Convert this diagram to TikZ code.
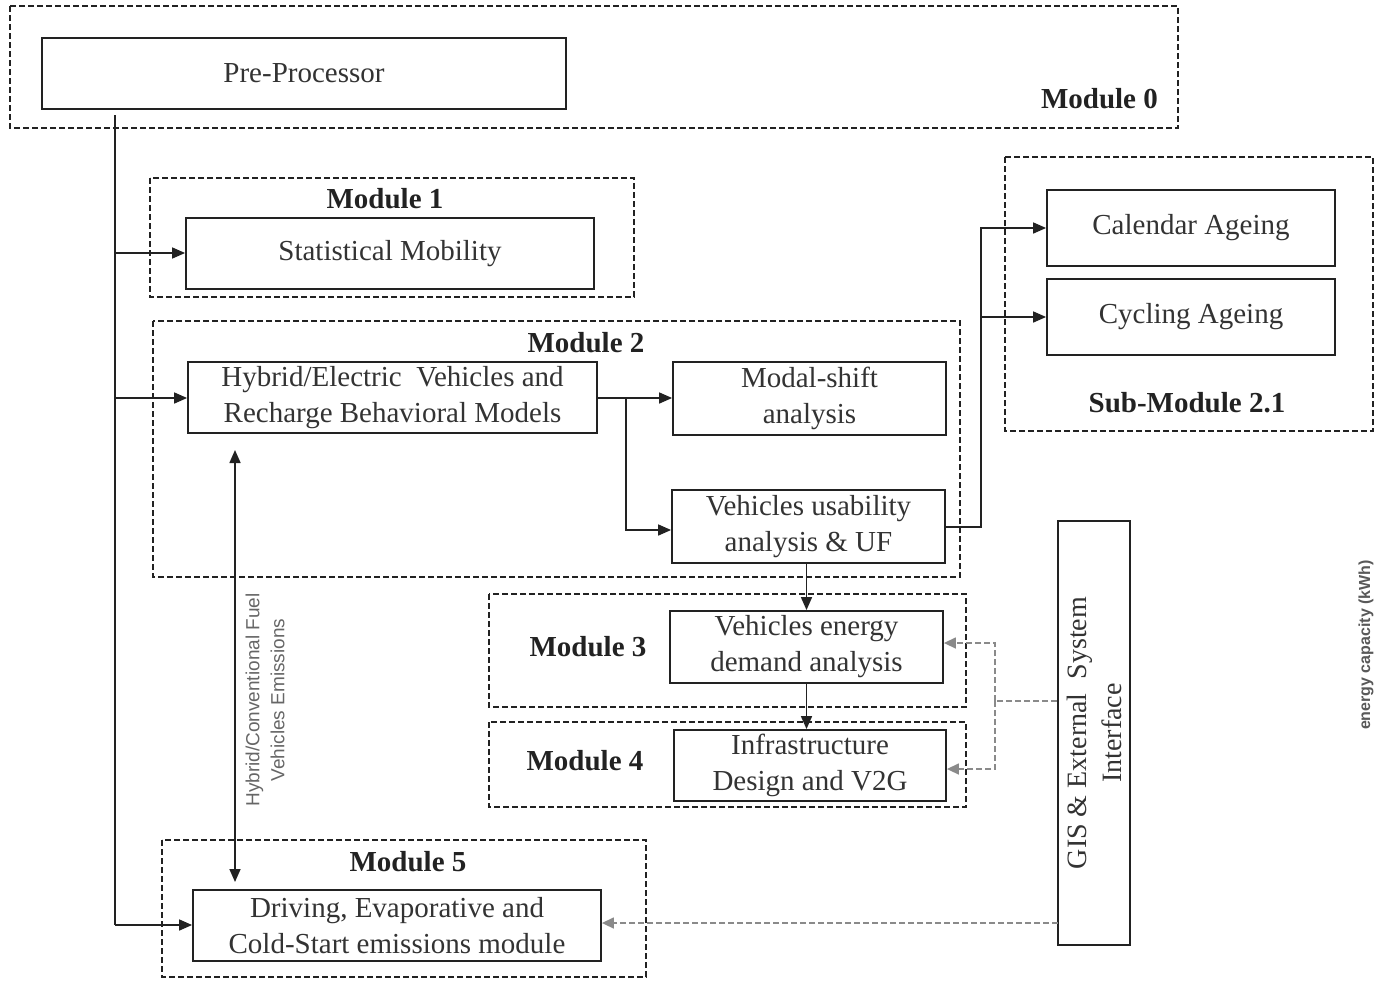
\documentclass[tikz,border=0pt]{standalone}
\usepackage{fontspec}
\setmainfont{Liberation Serif}
\newfontfamily\lsans{Liberation Sans}
\usetikzlibrary{arrows.meta}
\definecolor{ink}{HTML}{222222}
\definecolor{txt}{HTML}{333333}
\definecolor{gdash}{HTML}{8A8A8A}
\tikzset{
  modbox/.style={draw=ink, line width=1.6pt, dash pattern=on 6pt off 3pt},
  procbox/.style={draw=ink, line width=1.8pt, fill=white, inner sep=0pt, text=txt, align=center, font=\fontsize{29}{36}\selectfont},
  modlabel/.style={font=\fontsize{29}{32}\selectfont\bfseries, text=ink, inner sep=0pt},
  conn/.style={draw=ink, line width=1.6pt},
  arr/.style={conn, -{Triangle[length=13pt,width=11pt]}},
  darr/.style={conn, {Triangle[length=13pt,width=11pt]}-{Triangle[length=13pt,width=11pt]}},
  garr/.style={draw=gdash, line width=1.5pt, dash pattern=on 6pt off 3pt, -{Triangle[length=12pt,width=11pt]}},
  gline/.style={draw=gdash, line width=1.5pt, dash pattern=on 6pt off 3pt},
}
\begin{document}
\begin{tikzpicture}[x=1pt,y=-1pt]
\useasboundingbox (0,0) rectangle (1375,980);
% module frames
\draw[modbox] (10,6) rectangle (1178,128);
\draw[modbox] (150,178) rectangle (634,297);
\draw[modbox] (153,321) rectangle (960,577);
\draw[modbox] (1005,157) rectangle (1373,431);
\draw[modbox] (489,594) rectangle (966,707);
\draw[modbox] (489,722) rectangle (966,807);
\draw[modbox] (162,840) rectangle (646,977);
% module labels
\node[modlabel, anchor=east] (m0) at (1158,99) {Module 0};
\node[modlabel] (m1) at (385,199) {Module 1};
\node[modlabel] (m2) at (586,343) {Module 2};
\node[modlabel] (m21) at (1187,403) {Sub-Module 2.1};
\node[modlabel] (m3) at (588,647) {Module 3};
\node[modlabel] (m4) at (585,761) {Module 4};
\node[modlabel] (m5) at (408,862) {Module 5};
% process boxes
\node[procbox, minimum width=524pt, minimum height=71pt] (pre) at (304,73.5) {Pre-Processor};
\node[procbox, minimum width=408pt, minimum height=71pt] (stat) at (390,253.5) {Statistical Mobility};
\node[procbox, minimum width=409pt, minimum height=71pt] (hyb) at (392.5,397.5) {Hybrid/Electric\ \ Vehicles and\\Recharge Behavioral Models};
\node[procbox, minimum width=273pt, minimum height=73pt] (modal) at (809.5,398.5) {Modal-shift\\analysis};
\node[procbox, minimum width=273pt, minimum height=73pt] (usab) at (808.5,526.5) {Vehicles usability\\analysis \& UF};
\node[procbox, minimum width=288pt, minimum height=76pt] (cal) at (1191,228) {Calendar Ageing};
\node[procbox, minimum width=288pt, minimum height=76pt] (cyc) at (1191,317) {Cycling Ageing};
\node[procbox, minimum width=273pt, minimum height=72pt] (energy) at (806.5,647) {Vehicles energy\\demand analysis};
\node[procbox, minimum width=272pt, minimum height=71pt] (infra) at (810,765.5) {Infrastructure\\Design and V2G};
\node[procbox, minimum width=408pt, minimum height=71pt] (drive) at (397,925.5) {Driving, Evaporative and\\Cold-Start emissions module};
\node[procbox, minimum width=72pt, minimum height=424pt] (gis) at (1094,733) {};
\node[rotate=90, text=txt, align=center, font=\fontsize{28}{35}\selectfont, inner sep=0pt] (gistxt) at (gis.center) {GIS \& External\ \ System\\Interface};
% main trunk from pre-processor
\coordinate (trunktop) at (115,115);
\coordinate (t1) at (115,253);
\coordinate (t2) at (115,398);
\coordinate (t5) at (115,925);
\draw[conn] (trunktop) -- (t5);
\draw[arr] (t1) -- (stat.west |- t1);
\draw[arr] (t2) -- (hyb.west |- t2);
\draw[arr] (t5) -- (drive.west |- t5);
% module 2 internal
\coordinate (b1) at (626,398);
\coordinate (b2) at (626,530);
\draw[arr] (hyb.east |- b1) -- (modal.west |- b1);
\draw[arr] (b1) -- (b2) -- (usab.west |- b2);
% to sub-module 2.1
\coordinate (s0) at (981,527);
\coordinate (s1) at (981,228);
\coordinate (s2) at (981,317);
\draw[arr] (usab.east |- s0) -- (s0) -- (s1) -- (cal.west);
\draw[arr] (s2) -- (cyc.west);
% vertical chain
\draw[arr] (usab.south -| energy.north) -- (energy.north);
\draw[arr] (energy.south) -- (energy.south |- infra.north);
% emissions double arrow
\coordinate (e1) at (235,450);
\coordinate (e2) at (235,882);
\draw[darr] (e1) -- (e2);
\node[rotate=90, text=gray!80!black, align=center, font=\lsans\fontsize{19}{25}\selectfont, inner sep=0pt] (emlab) at (265,700) {Hybrid/Conventional Fuel\\Vehicles Emissions};
% GIS gray connectors
\coordinate (g0) at (995,701);
\coordinate (g1) at (995,643);
\coordinate (g2) at (995,769);
\draw[gline] (gis.west |- g0) -- (g0);
\draw[garr] (g0) -- (g1) -- (energy.east |- g1);
\draw[garr] (g0) -- (g2) -- (infra.east |- g2);
\coordinate (g5) at (1058,923);
\draw[garr] (g5) -- (drive.east |- g5);
% stray axis label at right edge
\node[rotate=90, text=gray!70!black, font=\lsans\bfseries\fontsize{16}{18}\selectfont, inner sep=0pt] (axis) at (1366,645) {energy capacity (kWh)};
\end{tikzpicture}
\end{document}
